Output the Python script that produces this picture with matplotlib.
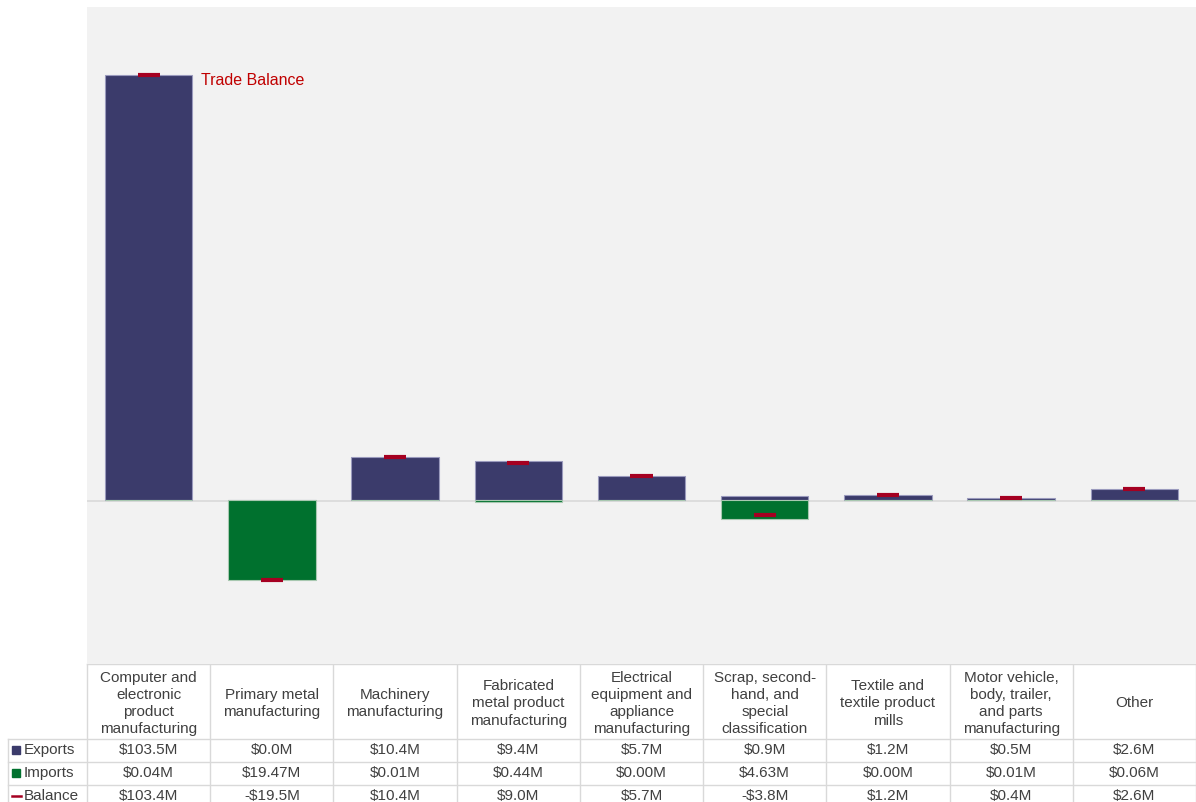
import matplotlib
matplotlib.use("Agg")
import matplotlib.pyplot as plt
from matplotlib.patches import Rectangle

categories = [
    "Computer and\nelectronic\nproduct\nmanufacturing",
    "Primary metal\nmanufacturing",
    "Machinery\nmanufacturing",
    "Fabricated\nmetal product\nmanufacturing",
    "Electrical\nequipment and\nappliance\nmanufacturing",
    "Scrap, second-\nhand, and\nspecial\nclassification",
    "Textile and\ntextile product\nmills",
    "Motor vehicle,\nbody, trailer,\nand parts\nmanufacturing",
    "Other",
]
exports = [103.5, 0.0, 10.4, 9.4, 5.7, 0.9, 1.2, 0.5, 2.6]
imports = [0.04, 19.47, 0.01, 0.44, 0.00, 4.63, 0.00, 0.01, 0.06]
balance = [103.4, -19.5, 10.4, 9.0, 5.7, -3.8, 1.2, 0.4, 2.6]
exports_lbl = ["$103.5M", "$0.0M", "$10.4M", "$9.4M", "$5.7M", "$0.9M", "$1.2M", "$0.5M", "$2.6M"]
imports_lbl = ["$0.04M", "$19.47M", "$0.01M", "$0.44M", "$0.00M", "$4.63M", "$0.00M", "$0.01M", "$0.06M"]
balance_lbl = ["$103.4M", "-$19.5M", "$10.4M", "$9.0M", "$5.7M", "-$3.8M", "$1.2M", "$0.4M", "$2.6M"]

plt.rcParams['font.family'] = ['Liberation Sans', 'DejaVu Sans']

W, H = 1196, 803
fig = plt.figure(figsize=(W / 100, H / 100), dpi=100)
fig.patch.set_facecolor('white')

L, R, T, B = 87, 1196, 8, 665
ax = fig.add_axes([L / W, (H - B) / H, (R - L) / W, (B - T) / H])
ax.set_facecolor('#f2f2f2')
for s in ax.spines.values():
    s.set_visible(False)
ax.set_xticks([])
ax.set_yticks([])

n = len(categories)
xs = list(range(n))
ax.axhline(-0.2, color='#d9d9d9', lw=1.2, zorder=1)
ax.bar(xs, exports, width=0.71, color='#3b3b6b', edgecolor='#9a9abd', lw=0.8, zorder=2)
ax.bar(xs, [-v for v in imports], width=0.71, color='#00712e', edgecolor='#a8c8b0', lw=0.8, zorder=2)
ax.hlines(balance, [x - 0.09 for x in xs], [x + 0.09 for x in xs], colors='#a50021', lw=3.0, zorder=3)
ax.set_xlim(-0.5, n - 0.5)
ax.set_ylim(-40, 120)
ax.annotate("Trade Balance", xy=(0, balance[0]), xytext=(38, -3), textcoords='offset points',
            color='#c00000', fontsize=11.5, va='center', ha='left')

# table in pixel coordinates
tx = fig.add_axes([0, 0, 1, 1], zorder=-1)
tx.set_xlim(0, W)
tx.set_ylim(H, 0)
tx.axis('off')
cw = (R - L) / n
grid = '#d9d9d9'
txtc = '#404040'
rows = [(740, 763), (763, 786), (786, 809)]
tx.plot([L, R], [B, B], color=grid, lw=1)
for (y0, y1) in rows:
    tx.plot([8, R], [y0, y0], color=grid, lw=1)
for i in range(n + 1):
    tx.plot([L + i * cw] * 2, [B, H], color=grid, lw=1)
tx.plot([8, 8], [740, H], color=grid, lw=1)

fs = 11
for i in range(n):
    cx = L + (i + 0.5) * cw
    tx.text(cx, (B + 740) / 2 + 1, categories[i], ha='center', va='center', fontsize=fs,
            color=txtc, linespacing=1.28)
    for (y0, y1), lbls in zip(rows, [exports_lbl, imports_lbl, balance_lbl]):
        tx.text(cx, (y0 + y1) / 2 - 1, lbls[i], ha='center', va='center', fontsize=fs, color=txtc)

labels = ["Exports", "Imports", "Balance"]
for (y0, y1), lab in zip(rows, labels):
    tx.text(24, (y0 + y1) / 2 - 1, lab, ha='left', va='center', fontsize=fs, color=txtc)
cy = (rows[0][0] + rows[0][1]) / 2
tx.add_patch(Rectangle((12, cy - 5), 8, 8, color='#3b3b6b'))
cy = (rows[1][0] + rows[1][1]) / 2
tx.add_patch(Rectangle((12, cy - 5), 8, 8, color='#00712e'))
cy = (rows[2][0] + rows[2][1]) / 2
tx.plot([12, 21], [cy - 1, cy - 1], color='#a50021', lw=1.8)

fig.savefig('out.png', dpi=100, facecolor='white')
